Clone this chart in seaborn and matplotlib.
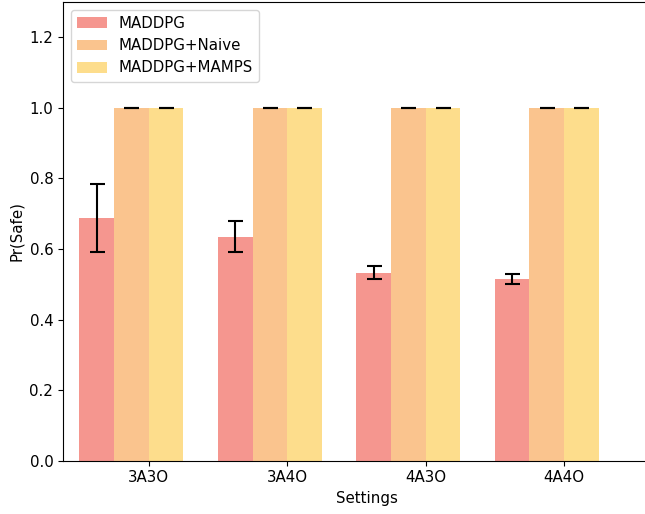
import numpy as np
import pandas as pd
import matplotlib
matplotlib.use('Agg')
import matplotlib.pyplot as plt
import seaborn as sns

settings = ['3A3O', '3A4O', '4A3O', '4A4O']
methods = ['MADDPG', 'MADDPG+Naive', 'MADDPG+MAMPS']

maddpg_mean = [0.688, 0.635, 0.533, 0.516]
maddpg_err = [0.097, 0.044, 0.018, 0.014]
naive_mean = [1.0, 1.0, 1.0, 1.0]
naive_err = [0.0, 0.0, 0.0, 0.0]
mamps_mean = [1.0, 1.0, 1.0, 1.0]
mamps_err = [0.0, 0.0, 0.0, 0.0]

colors = ['#F5968F', '#FAC48E', '#FDDD8C']

plt.rcParams['font.size'] = 10.8

df = pd.DataFrame({
    'Settings': settings * 3,
    'method': np.repeat(methods, len(settings)),
    'value': maddpg_mean + naive_mean + mamps_mean,
    'err': maddpg_err + naive_err + mamps_err,
})

fig = plt.figure(figsize=(6.45, 5.14), dpi=100)
ax = fig.add_axes([63 / 645, 1 - 460.7 / 514, (670 - 63) / 645, (460.7 - 2) / 514])

width = 0.75
sns.barplot(data=df, x='Settings', y='value', hue='method', order=settings,
            hue_order=methods, palette=colors, saturation=1, width=width,
            errorbar=None, linewidth=0, ax=ax)

# error bars on top of each bar
bw = width / len(methods)
for j, m in enumerate(methods):
    sub = df[df['method'] == m]
    xpos = np.arange(len(settings)) - width / 2 + bw / 2 + j * bw
    ax.errorbar(xpos, sub['value'], yerr=sub['err'], fmt='none',
                ecolor='black', elinewidth=1.5, capsize=5.4, capthick=1.5, zorder=5)

# ticks sit between the 2nd and 3rd bar of each group
ax.set_xticks(np.arange(len(settings)) + bw / 2, settings)
ax.set_xlim(-0.494, 0.125 + 3 + (670 - 564) / 138.4)
ax.set_ylim(0, 1.3)
ax.set_yticks(np.arange(0, 1.21, 0.2))
ax.set_xlabel('Settings')
ax.set_ylabel('Pr(Safe)')
ax.legend(loc='upper left', title=None)

fig.savefig('out.png', dpi=100)
